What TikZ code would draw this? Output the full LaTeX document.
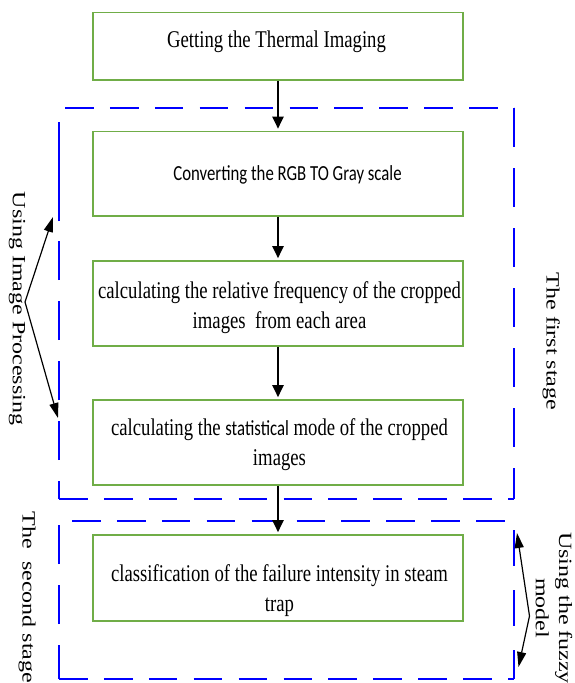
\documentclass[tikz,border=0pt]{standalone}
\usepackage{fontspec}
\setmainfont{Liberation Serif}
\newfontfamily\boxserif[FakeStretch=0.78]{Liberation Serif}
\newfontfamily\boxsans[FakeStretch=0.78]{Carlito}
\usetikzlibrary{arrows.meta}
\definecolor{boxgreen}{HTML}{70AD47}
\begin{document}
\begin{tikzpicture}[x=1pt,y=-1pt,
  gbox/.style={draw=boxgreen, line width=1.6pt, minimum width=370.5pt, inner sep=0},
  btext/.style={font=\boxserif\fontsize{24}{30}\selectfont, align=center, inner sep=0},
  stext/.style={font=\boxsans\fontsize{21.5}{30}\selectfont, align=center, inner sep=0},
  flow/.style={line width=2.2pt, -{Triangle[length=12pt,width=11pt]}, shorten >=2pt},
  thin arrow/.style={line width=1.2pt, -{Triangle[length=15pt,width=9pt]}},
  bdash/.style={draw=blue, line width=2pt},
  hdash/.style={bdash, dash pattern=on 28.6pt off 16.3pt},
  vdash/.style={bdash, dash pattern=on 39pt off 21pt},
  rtext/.style={font=\fontsize{24}{30}\selectfont, rotate=-90, yscale=0.78, inner sep=0}]
\useasboundingbox (0,0) rectangle (574,683);

% dashed stage frames
\draw[hdash] (65,108) -- (514,108);
\draw[vdash] (514,108) -- (514,499);
\draw[hdash] (59,499) -- (514,499);
\draw[vdash, dash phase=21pt] (59,499) -- (59,221);
\draw[bdash] (59,221) -- (59,122);

\draw[hdash] (72,521) -- (505,521);
\draw[bdash, dash pattern=on 36pt off 24pt] (514,530) -- (514,679);
\draw[hdash] (59,679) -- (514,679);
\draw[vdash, dash phase=5pt] (59,679) -- (59,525);

% boxes
\node[gbox, minimum height=67.5pt] (b1) at (278,46.25) {};
\node[gbox, minimum height=84.5pt] (b2) at (278,173.75) {};
\node[gbox, minimum height=85pt] (b3) at (278,303.5) {};
\node[gbox, minimum height=85pt] (b4) at (278,442.5) {};
\node[gbox, minimum height=86pt] (b5) at (278,578) {};

% box texts
\node[btext] (t1) at (276.5,41.4) {Getting the Thermal Imaging};
\node[stext] (t2) at (287.5,175) {Converting the RGB TO Gray scale};
\node[btext] (t3) at (279.5,307.4) {calculating the relative frequency of the cropped\\images\ \ from each area};
\node[btext] (t4) at (279.5,445) {calculating the {\boxsans\fontsize{21.5}{30}\selectfont statistical} mode of the cropped\\images};
\node[btext] (t5) at (279.5,590.4) {classification of the failure intensity in steam\\trap};

% flow arrows
\draw[flow] (b1.south) -- (b2.north);
\draw[flow] (b2.south) -- (b3.north);
\draw[flow] (b3.south) -- (b4.north);
\draw[flow] (b4.south) -- (b5.north);

% side arrows
\coordinate (ipb) at (25,302);
\coordinate (ipt) at (53,217);
\coordinate (ipd) at (58,418);
\draw[thin arrow] (ipb) -- (ipt);
\draw[thin arrow] (ipb) -- (ipd);

\coordinate (fzb) at (529.5,616);
\coordinate (fzt) at (517,533);
\coordinate (fzd) at (518.5,667);
\draw[thin arrow] (fzb) -- (fzt);
\draw[thin arrow] (fzb) -- (fzd);

% rotated labels
\node[rtext, anchor=base] (lip) at (12.8,308.5) {Using Image Processing};
\node[rtext, anchor=base] (lfs) at (546.5,341.5) {The first stage};
\node[rtext, anchor=base west] (lss) at (22.5,511.5) {The\ \ second stage};
\node[rtext, align=center] (lfz) at (554,608) {Using the fuzzy\\model};
\end{tikzpicture}
\end{document}
